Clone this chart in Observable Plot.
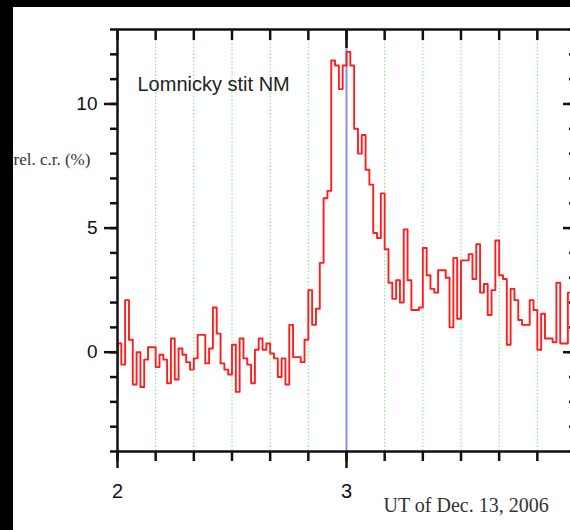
<!DOCTYPE html>
<html><head><meta charset="utf-8">
<script src="https://cdn.jsdelivr.net/npm/d3@7"></script>
<script src="https://cdn.jsdelivr.net/npm/@observablehq/plot@0.6"></script>
<style>
html,body{margin:0;padding:0;background:#000;width:570px;height:530px;overflow:hidden;}
#chart{position:absolute;left:13px;top:7px;}
</style></head><body><div id="chart"></div>
<script>
// Relative count rate (%) of Lomnicky stit neutron monitor, 1-minute bins,
// first bin starts at minute 119 (01:59 UT), Dec. 13, 2006
const startMinute = 119;
const relRate = [
  -1.8,
  0.35, -0.5, 2.1, 0.5, -1.3, 0, -1.4, -0.3, 0.2, 0.2,
  -0.6, -0.1, -0.3, -1.25, 0.55, -1.1, 0.15, -0.1, -0.4, -0.7,
  -0.25, 0.7, 0.7, -0.45, 0.15, 1.8, 0.75, -0.45, -0.7, -0.9,
  0.3, -1.6, 0.55, -0.25, -0.5, -1.25, 0.1, 0.55, 0.1, 0.35,
  -0.05, -0.25, -1.0, -0.25, -1.3, 1.1, -0.2, -0.2, -0.4, 0.5,
  2.5, 1.1, 1.75, 3.6, 6.2, 6.5, 11.75, 11.55, 10.6, 11.55,
  12.1, 11.55, 9.0, 8.0, 8.75, 7.35, 6.75, 4.8, 4.6, 6.4,
  4.15, 2.8, 2.15, 2.9, 2.0, 4.95, 2.9, 1.7, 1.7, 1.8,
  4.2, 3.1, 2.55, 2.4, 3.3, 3.3, 3.0, 1.0, 3.8, 1.35,
  3.7, 3.7, 3.95, 2.95, 4.35, 2.4, 2.75, 1.5, 2.5, 4.5,
  3.1, 2.95, 0.3, 2.55, 2.1, 1.3, 1.1, 1.1, 2.1, 1.7,
  0.1, 1.55, 0.55, 0.55, 0.4, 2.8, 0.35, 0.35, 2.4, 2.0
];
const xDomain = [2, 4];
const yDomain = [-4, 13];
const xLabelTicks = [2, 3];
const xMinorTicks = d3.range(12, 25).map(k => k / 6);
const gridTicks = d3.range(13, 24).filter(k => k !== 18).map(k => k / 6);
const eventTime = [3];
const yMajorTicks = [0, 5, 10];
const yMinorTicks = d3.range(-4, 14);
const title = "Lomnicky stit NM";
const yLabel = "rel. c.r. (%)";
const xLabel = "UT of Dec. 13, 2006";

const data = relRate.map((v, i) => ({t: (startMinute + i) / 60, v}));
data.push({t: (startMinute + relRate.length) / 60, v: relRate[relRate.length - 1]});

const tickW = 2.5;
const chart = Plot.plot({
  width: 562, height: 523,
  marginLeft: 104, marginRight: 0, marginTop: 22, marginBottom: 79,
  x: {domain: xDomain},
  y: {domain: yDomain},
  style: {background: "white", maxWidth: "none", fontFamily: "'Liberation Sans', Arial, sans-serif", fontSize: "19px", color: "#111", overflow: "hidden"},
  marks: [
    Plot.ruleX(gridTicks, {stroke: "#7fe07f", strokeWidth: 1, strokeDasharray: "1.5,2"}),
    Plot.ruleX(eventTime, {stroke: "#8c8cff", strokeWidth: 2}),
    Plot.line(data, {x: "t", y: "v", curve: "step-after", stroke: "#ff1e1e", strokeWidth: 1.9, clip: true}),
    Plot.frame({stroke: "#111", strokeWidth: 2.5}),
    Plot.axisY({ticks: yMajorTicks, tickSize: 13, tickPadding: 7, strokeWidth: tickW, label: null, tickFormat: d => String(d), fontSize: 19}),
    Plot.axisY({ticks: yMinorTicks, tickSize: 7, text: null, strokeWidth: tickW, label: null}),
    Plot.axisY({anchor: "right", ticks: yMajorTicks, tickSize: -13, text: null, strokeWidth: tickW, label: null}),
    Plot.axisY({anchor: "right", ticks: yMinorTicks, tickSize: -7, text: null, strokeWidth: tickW, label: null}),
    Plot.axisX({ticks: xLabelTicks, tickSize: 17, tickPadding: 15, strokeWidth: tickW, label: null, tickFormat: d => String(d), fontSize: 20}),
    Plot.axisX({ticks: xMinorTicks, tickSize: 10, text: null, strokeWidth: tickW, label: null}),
    Plot.axisX({anchor: "top", ticks: xMinorTicks, tickSize: -10, text: null, strokeWidth: tickW, label: null}),
    Plot.axisX({anchor: "top", ticks: eventTime, tickSize: -18, text: null, strokeWidth: tickW, label: null}),
    Plot.text([title], {frameAnchor: "top-left", dx: 20, dy: 61, textAnchor: "start", lineAnchor: "bottom", fontSize: 20, fill: "#222"}),
    Plot.text([yLabel], {frameAnchor: "top-left", dx: -104, dy: 135, textAnchor: "start", lineAnchor: "bottom", fontSize: 17, fontFamily: "'Liberation Serif', 'Times New Roman', serif", fill: "#333"}),
    Plot.text([xLabel], {frameAnchor: "bottom-left", dx: 266, dy: 60, textAnchor: "start", lineAnchor: "bottom", fontSize: 20, fontFamily: "'Liberation Serif', 'Times New Roman', serif", fill: "#333"})
  ]
});
document.getElementById("chart").appendChild(chart);
</script></body></html>
